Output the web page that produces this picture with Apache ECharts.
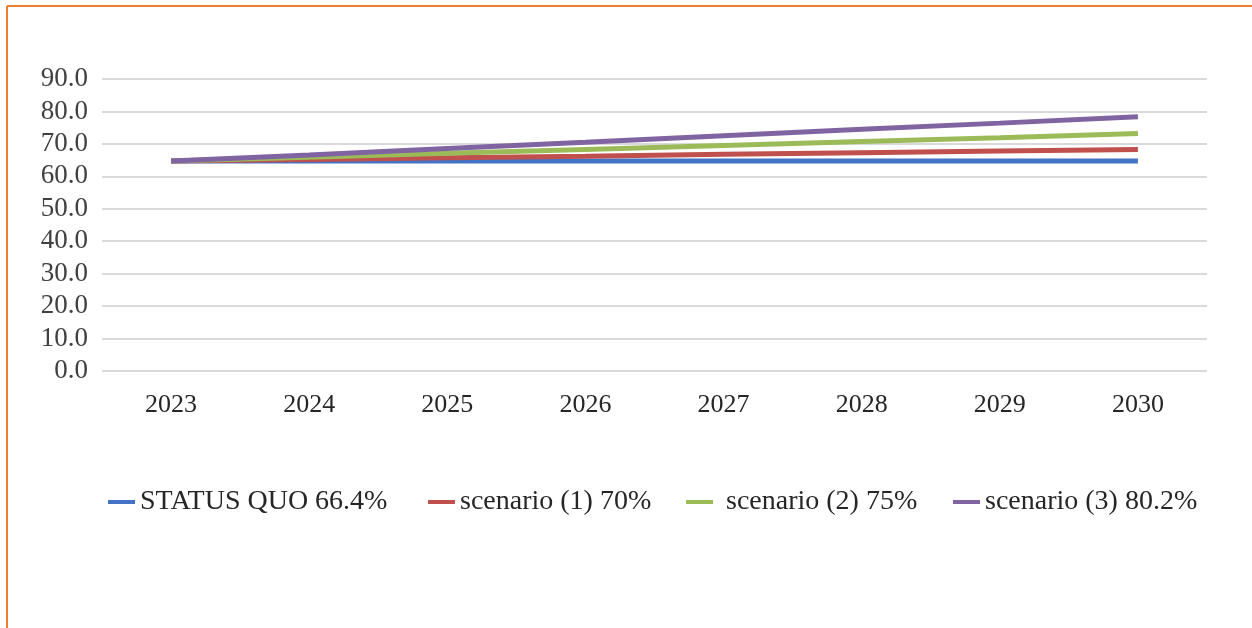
<!DOCTYPE html>
<html>
<head>
<meta charset="utf-8">
<script src="https://cdn.jsdelivr.net/npm/echarts@6/dist/echarts.min.js"></script>
<style>
html,body{margin:0;padding:0;background:#fff;}
#chart{width:1252px;height:628px;}
</style>
</head>
<body>
<div id="chart"></div>
<script>
const years = ['2023','2024','2025','2026','2027','2028','2029','2030'];
const statusQuo = [64.7, 64.7, 64.7, 64.7, 64.7, 64.7, 64.7, 64.7];
const scenario1 = [64.7, 65.2, 65.7, 66.2, 66.8, 67.3, 67.8, 68.3];
const scenario2 = [64.7, 65.9, 67.1, 68.3, 69.5, 70.7, 71.9, 73.2];
const scenario3 = [64.7, 66.6, 68.6, 70.5, 72.5, 74.5, 76.4, 78.4];
const seriesNames = ['STATUS QUO 66.4%', 'scenario (1) 70%', 'scenario (2) 75%', 'scenario (3) 80.2%'];
const colors = ['#4472c4', '#c0504d', '#9bbb59', '#8064a2'];
const yTicks = { min: 0, max: 90, interval: 10 };

const chart = echarts.init(document.getElementById('chart'));
const font = "'Liberation Serif', 'Times New Roman', serif";
const legendLefts = [108, 428, 686, 953];
const legendTextPad = [0, 0, 8, 0];
const dataSets = [statusQuo, scenario1, scenario2, scenario3];

const option = {
  animation: false,
  backgroundColor: '#ffffff',
  graphic: [
    { type: 'line', shape: { x1: 7, y1: 6, x2: 1252, y2: 6 }, style: { stroke: '#ed7d31', lineWidth: 2 } },
    { type: 'line', shape: { x1: 7, y1: 6, x2: 7, y2: 628 }, style: { stroke: '#ed7d31', lineWidth: 2 } }
  ],
  grid: { left: 102, right: 45, top: 79, bottom: 257, containLabel: false },
  xAxis: {
    type: 'category',
    data: years,
    boundaryGap: true,
    axisLine: { show: false },
    axisTick: { show: false },
    axisLabel: { margin: 21, fontFamily: font, fontSize: 26, color: '#262626' }
  },
  yAxis: {
    type: 'value',
    min: yTicks.min, max: yTicks.max, interval: yTicks.interval,
    axisLine: { show: false },
    axisTick: { show: false },
    splitLine: { lineStyle: { color: '#d9d9d9', width: 2 } },
    axisLabel: { margin: 14, fontFamily: font, fontSize: 27, color: '#404040', formatter: v => v.toFixed(1) }
  },
  legend: seriesNames.map((n, i) => ({
    data: [n],
    left: legendLefts[i],
    top: 488,
    icon: 'rect',
    itemWidth: 27,
    itemHeight: 4,
    itemGap: 0,
    padding: 0,
    textStyle: { fontFamily: font, fontSize: 28, color: '#262626', padding: [0, 0, 0, legendTextPad[i]] }
  })),
  series: seriesNames.map((n, i) => ({
    name: n,
    type: 'line',
    data: dataSets[i],
    symbol: 'none',
    color: colors[i],
    lineStyle: { width: 5, color: colors[i] },
    z: 2 + i
  }))
};
chart.setOption(option);
</script>
</body>
</html>
